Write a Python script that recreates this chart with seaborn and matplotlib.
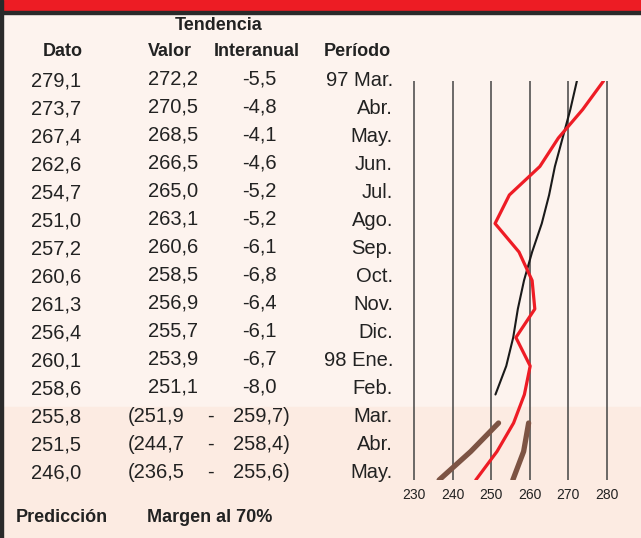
import matplotlib
matplotlib.use("Agg")
import matplotlib.pyplot as plt
import seaborn as sns
import pandas as pd
from matplotlib.patches import Rectangle

# data
periodo = ["97 Mar.", "Abr.", "May.", "Jun.", "Jul.", "Ago.", "Sep.", "Oct.",
           "Nov.", "Dic.", "98 Ene.", "Feb.", "Mar.", "Abr.", "May."]
dato = [279.1, 273.7, 267.4, 262.6, 254.7, 251.0, 257.2, 260.6,
        261.3, 256.4, 260.1, 258.6, 255.8, 251.5, 246.0]
valor = [272.2, 270.5, 268.5, 266.5, 265.0, 263.1, 260.6, 258.5,
         256.9, 255.7, 253.9, 251.1]
interanual = [-5.5, -4.8, -4.1, -4.6, -5.2, -5.2, -6.1, -6.8,
              -6.4, -6.1, -6.7, -8.0]
margen_inf = [251.9, 244.7, 236.5]
margen_sup = [259.7, 258.4, 255.6]
ticks = [230, 240, 250, 260, 270, 280]

W, H = 641, 538
sns.set_style("white")
plt.rcParams["font.family"] = ["Liberation Sans", "DejaVu Sans"]

fig = plt.figure(figsize=(W / 100, H / 100), dpi=100)
fig.patch.set_facecolor("#fdf3ee")


def px(x, y):
    return x / W, 1 - y / H


def fmt(v):
    return f"{v:.1f}".replace(".", ",")


# backgrounds / frame
fig.patches.append(Rectangle(px(0, H), 1, 1 - 407 / H, transform=fig.transFigure,
                             color="#fcebe2", zorder=-1))
fig.patches.append(Rectangle(px(0, 11), 1, 11 / H, transform=fig.transFigure,
                             color="#ed1c24", zorder=1))
fig.patches.append(Rectangle(px(0, 13.5), 1, 2.5 / H, transform=fig.transFigure,
                             color="#2a2a2a", zorder=1))
fig.patches.append(Rectangle(px(0, H), 3 / W, 1, transform=fig.transFigure,
                             color="#2a2a2a", zorder=1))

# chart: rows 0..14 from y=81 to y=480, x 230->414px, 280->607px
scale = (607 - 414) / 50
ax_l, ax_r = 400, 630
ax = fig.add_axes([ax_l / W, 1 - 480 / H, (ax_r - ax_l) / W, (480 - 81) / H])
ax.set_facecolor("none")
ax.set_xlim(230 - (414 - ax_l) / scale, 230 + (ax_r - 414) / scale)
ax.set_ylim(14, 0)

df_dato = pd.DataFrame({"v": dato, "row": range(len(dato))})
df_valor = pd.DataFrame({"v": valor, "row": range(len(valor))})
n0 = len(valor)
df_inf = pd.DataFrame({"v": margen_inf, "row": range(n0, n0 + 3)})
df_sup = pd.DataFrame({"v": margen_sup, "row": range(n0, n0 + 3)})

sns.lineplot(data=df_dato, x="v", y="row", orient="y", sort=False, estimator=None,
             color="#ee1c25", lw=2.3, ax=ax, zorder=4)
sns.lineplot(data=df_valor, x="v", y="row", orient="y", sort=False, estimator=None,
             color="#1a1a1a", lw=1.5, ax=ax, zorder=3)
for d in (df_inf, df_sup):
    sns.lineplot(data=d, x="v", y="row", orient="y", sort=False, estimator=None,
                 color="#7d5444", lw=3.8, ax=ax, zorder=3)

ax.set_xticks(ticks)
ax.set_xticklabels([str(t) for t in ticks], fontsize=10, color="#222")
ax.set_yticks([])
ax.set_xlabel("")
ax.set_ylabel("")
ax.tick_params(axis="x", length=0, pad=6)
ax.grid(axis="x", color="#444", lw=1.1)
ax.grid(axis="y", visible=False)
for s in ax.spines.values():
    s.set_visible(False)

# table text
txt = dict(fontsize=14.5, color="#222", va="center")
bold = dict(fontsize=13, color="#222", va="center", fontweight="bold")

fig.text(*px(219, 26), "Tendencia", ha="center", **bold)
fig.text(*px(63, 52), "Dato", ha="center", **bold)
fig.text(*px(170, 52), "Valor", ha="center", **bold)
fig.text(*px(257, 52), "Interanual", ha="center", **bold)
fig.text(*px(357, 52), "Período", ha="center", **bold)

for i, p in enumerate(periodo):
    y = 81 + 28 * i
    fig.text(*px(31, y), fmt(dato[i]), ha="left", **txt)
    fig.text(*px(393, y), p, ha="right", **txt)
    if i < len(valor):
        fig.text(*px(148, y - 2), fmt(valor[i]), ha="left", **txt)
        fig.text(*px(242, y - 2), fmt(interanual[i]), ha="left", **txt)
    else:
        k = i - len(valor)
        fig.text(*px(128, y - 1), "(" + fmt(margen_inf[k]), ha="left", **txt)
        fig.text(*px(210, y - 1), "-", ha="center", **txt)
        fig.text(*px(233, y - 1), fmt(margen_sup[k]) + ")", ha="left", **txt)

fig.text(*px(16, 517), "Predicción", ha="left", **bold)
fig.text(*px(147, 517), "Margen al 70%", ha="left", **bold)

fig.savefig("out.png", dpi=100, facecolor=fig.get_facecolor())
